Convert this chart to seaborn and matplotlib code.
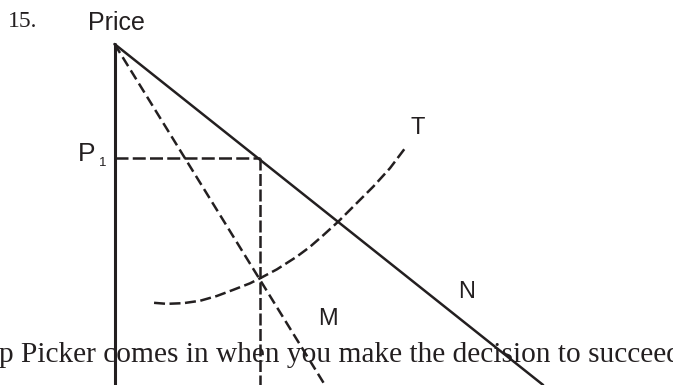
import numpy as np
import pandas as pd
import matplotlib
matplotlib.use("Agg")
import matplotlib.pyplot as plt
import seaborn as sns

apice = (0.0, 10.0)
n_fim = (12.57, 0.0)          # curva N (solida)
m_fim = (6.17, 0.0)           # curva M (tracejada)
p1 = 6.65
q1 = 4.27
t_q = [1.16, 1.53, 2.02, 2.51, 3.00, 3.48, 3.97, 4.27, 4.76, 5.34, 5.73,
       6.12, 6.56, 7.10, 7.59, 8.08, 8.57]
t_p = [2.41, 2.38, 2.40, 2.47, 2.61, 2.79, 2.98, 3.13, 3.39, 3.76, 4.05,
       4.39, 4.79, 5.33, 5.82, 6.36, 7.01]

frase = "p Picker comes in when you make the decision to succeed"

cor = "#231f20"
lw = 1.8

sns.set_style("white")
fig = plt.figure(figsize=(6.73, 3.85), dpi=100)
ax = fig.add_axes([0, 0, 1, 1])

# eixo vertical
sns.lineplot(x=[apice[0], apice[0]], y=[apice[1], -0.5], ax=ax, color=cor, lw=2.2,
             sort=False, estimator=None, zorder=3)
# N
sns.lineplot(x=[apice[0], n_fim[0]], y=[apice[1], n_fim[1]], ax=ax, color=cor, lw=lw,
             sort=False, estimator=None, zorder=3)
# M
sns.lineplot(x=[apice[0], m_fim[0]], y=[apice[1], m_fim[1]], ax=ax, color=cor, lw=lw,
             linestyle=(0, (4.2, 2)), sort=False, estimator=None, zorder=3)
# P1 horizontal e vertical
sns.lineplot(x=[apice[0], q1], y=[p1, p1], ax=ax, color=cor, lw=lw,
             linestyle=(0, (5.2, 1.7)), sort=False, estimator=None, zorder=3)
sns.lineplot(x=[q1, q1], y=[p1, -0.5], ax=ax, color=cor, lw=lw,
             linestyle=(0, (4.8, 1.4)), sort=False, estimator=None, zorder=3)
# T
df_t = pd.DataFrame({"q": t_q, "p": t_p})
sns.lineplot(data=df_t, x="q", y="p", ax=ax, color=cor, lw=lw,
             linestyle=(0, (4.4, 1.8)), sort=False, estimator=None, zorder=3)

sans = "Liberation Sans"
serif = "Liberation Serif"
ax.text(-2.70, 10.67, "15.", family=serif, fontsize=17, color=cor, ha="center", va="center")
ax.text(0.07, 10.62, "Price", family=sans, fontsize=18, color=cor, ha="center", va="center")
ax.text(-0.81, 6.77, "P", family=sans, fontsize=19, color=cor, ha="center", va="center")
ax.text(-0.34, 6.52, "1", family=sans, fontsize=9.5, color=cor, ha="center", va="center")
ax.text(8.90, 7.54, "T", family=sans, fontsize=17, color=cor, ha="center", va="center")
ax.text(10.32, 2.74, "N", family=sans, fontsize=17, color=cor, ha="center", va="center")
ax.text(6.26, 1.94, "M", family=sans, fontsize=17, color=cor, ha="center", va="center")
ax.text(-3.38, 0.67, frase, family=serif, fontsize=21.2, color=cor, ha="left",
        va="baseline", zorder=1)

ax.set_xlim(-114.5 / 34.1, (673 - 114.5) / 34.1)
ax.set_ylim(0, 385 / 34.1)
ax.axis("off")

fig.savefig("out.png", dpi=100)
